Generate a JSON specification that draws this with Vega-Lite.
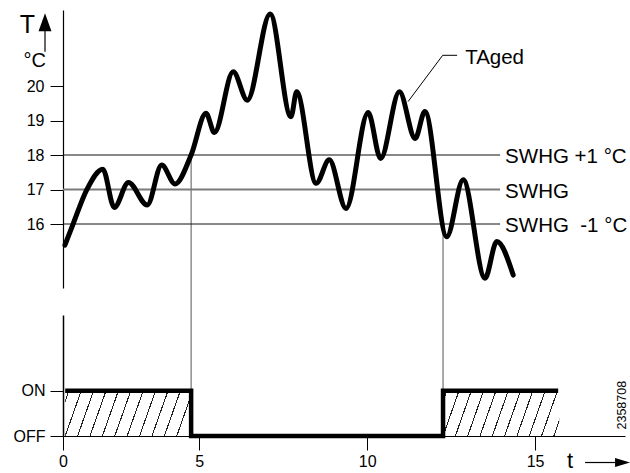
{
  "$schema": "https://vega.github.io/schema/vega-lite/v6.json",
  "width": 562,
  "height": 426,
  "autosize": {"type": "none"},
  "padding": {"left": 63, "top": 10, "right": 5, "bottom": 37},
  "background": "white",
  "config": {
    "view": {"stroke": null},
    "font": "Liberation Sans",
    "text": {"font": "Liberation Sans", "color": "black"},
    "axis": {"labelFont": "Liberation Sans", "titleFont": "Liberation Sans", "labelColor": "black", "titleColor": "black", "domainColor": "black", "tickColor": "black", "grid": false}
  },
  "datasets": {
    "curve": [
      {"t": 0.07, "temp": 15.39}, {"t": 0.38, "temp": 16.02}, {"t": 0.87, "temp": 16.99},
      {"t": 1.46, "temp": 17.59}, {"t": 1.88, "temp": 16.48}, {"t": 2.40, "temp": 17.20},
      {"t": 3.09, "temp": 16.55}, {"t": 3.62, "temp": 17.71}, {"t": 4.11, "temp": 17.16},
      {"t": 4.70, "temp": 18.0}, {"t": 5.20, "temp": 19.21}, {"t": 5.45, "temp": 18.65},
      {"t": 6.01, "temp": 20.41}, {"t": 6.43, "temp": 19.59}, {"t": 7.11, "temp": 22.09},
      {"t": 7.73, "temp": 19.11}, {"t": 7.90, "temp": 19.83}, {"t": 8.48, "temp": 17.18},
      {"t": 8.87, "temp": 17.86}, {"t": 9.37, "temp": 16.45}, {"t": 10.03, "temp": 19.23},
      {"t": 10.40, "temp": 17.90}, {"t": 10.96, "temp": 19.83}, {"t": 11.43, "temp": 18.48},
      {"t": 11.72, "temp": 19.26}, {"t": 12.37, "temp": 15.63}, {"t": 12.86, "temp": 17.28},
      {"t": 13.51, "temp": 14.43}, {"t": 13.86, "temp": 15.49}, {"t": 14.35, "temp": 14.52}
    ],
    "refs": [
      {"t": 0, "t2": 13.96, "temp": 18, "label": "SWHG +1 °C"},
      {"t": 0, "t2": 13.96, "temp": 17, "label": "SWHG"},
      {"t": 0, "t2": 13.96, "temp": 16, "label": "SWHG\u00a0 -1 °C"}
    ],
    "vlines": [
      {"t": 4.70, "temp": 18},
      {"t": 12.26, "temp": 16}
    ],
    "leader": [
      {"i": 0, "t": 11.22, "temp": 19.55},
      {"i": 1, "t": 12.25, "temp": 20.89},
      {"i": 2, "t": 12.68, "temp": 20.89}
    ],
    "step": [
      {"i": 0, "t": 0.08, "state": 1},
      {"i": 1, "t": 4.70, "state": 1},
      {"i": 2, "t": 4.70, "state": 0},
      {"i": 3, "t": 12.26, "state": 0},
      {"i": 4, "t": 12.26, "state": 1},
      {"i": 5, "t": 15.69, "state": 1}
    ],
    "hatch": [
      {"part": "a", "t": 0.08, "t2": 4.70, "state": 1},
      {"part": "b", "t": 12.26, "t2": 15.72, "state": 1}
    ]
  },
  "encoding": {
    "x": {
      "field": "t", "type": "quantitative",
      "scale": {"domain": [0, 5, 17.68], "range": [0, 136.3, 562], "nice": false, "zero": false},
      "axis": {
        "values": [0, 5, 10, 15], "title": "t", "titleX": 506.5, "titleY": 31,
        "titleAlign": "center", "titleBaseline": "alphabetic", "titleFontSize": 22, "titleFontWeight": "normal",
        "labelFontSize": 16, "labelPadding": 3, "tickSize": 14, "tickWidth": 1, "domainWidth": 1,
        "labelFlush": false, "labelOverlap": false
      }
    }
  },
  "layer": [
    {
      "encoding": {
        "y": {
          "field": "temp", "type": "quantitative",
          "scale": {"domain": [14.145, 22.203], "range": [278, 0], "nice": false, "zero": false},
          "axis": {
            "orient": "left", "values": [16, 17, 18, 19, 20], "title": "T", "titleAngle": 0,
            "titleX": -36, "titleY": 22, "titleAlign": "center", "titleBaseline": "alphabetic",
            "titleFontSize": 25, "titleFontWeight": "normal",
            "labelFontSize": 16, "labelPadding": 6, "tickSize": 13, "tickWidth": 1, "domainWidth": 1.2
          }
        }
      },
      "layer": [
        {
          "data": {"name": "vlines"},
          "mark": {"type": "rule", "color": "#555555", "strokeWidth": 1},
          "encoding": {"y2": {"value": "height"}}
        },
        {
          "data": {"name": "refs"},
          "mark": {"type": "rule"},
          "encoding": {
            "x2": {"field": "t2"},
            "color": {"condition": {"test": "datum.temp == 17", "value": "#7a7a7a"}, "value": "#111111"},
            "strokeWidth": {"condition": {"test": "datum.temp == 17", "value": 1.8}, "value": 1}
          }
        },
        {
          "data": {"name": "refs"},
          "mark": {"type": "text", "align": "left", "baseline": "middle", "dx": 5, "dy": 2, "fontSize": 20.5},
          "encoding": {"x": {"field": "t2", "type": "quantitative"}, "text": {"field": "label"}}
        },
        {
          "data": {"name": "curve"},
          "mark": {"type": "line", "interpolate": "monotone", "color": "black", "strokeWidth": 5, "strokeCap": "round", "strokeJoin": "round"}
        },
        {
          "data": {"name": "leader"},
          "mark": {"type": "line", "color": "black", "strokeWidth": 1},
          "encoding": {"order": {"field": "i"}}
        },
        {
          "data": {"values": [{"t": 12.68, "temp": 20.89, "label": "TAged"}]},
          "mark": {"type": "text", "align": "left", "baseline": "middle", "dx": 8, "dy": 3, "fontSize": 20.5},
          "encoding": {"text": {"field": "label"}}
        },
        {
          "data": {"values": [{"t": -0.66, "temp": 20.75, "label": "°C"}]},
          "mark": {"type": "text", "align": "right", "baseline": "middle", "dx": 1, "dy": 1, "fontSize": 20},
          "encoding": {"text": {"field": "label"}}
        },
        {
          "data": {"values": [{"t": -0.66, "temp": 21.6, "temp2": 20.99}]},
          "mark": {"type": "rule", "color": "black", "strokeWidth": 1.2},
          "encoding": {"y2": {"field": "temp2"}}
        },
        {
          "data": {"values": [{"t": -0.66, "temp": 21.846}]},
          "mark": {"type": "point", "shape": "M0,-1L0.72,1L-0.72,1Z", "size": 324, "filled": true, "color": "black", "opacity": 1, "strokeWidth": 0}
        }
      ]
    },
    {
      "encoding": {
        "y": {
          "field": "state", "type": "quantitative",
          "scale": {"domain": [0, 2.67], "range": [426, 305], "nice": false, "zero": false},
          "axis": {
            "orient": "left", "values": [0, 1], "labelExpr": "datum.value == 1 ? 'ON' : 'OFF'", "title": null,
            "labelFontSize": 16, "labelPadding": 5, "tickSize": 13, "tickWidth": 1, "domainWidth": 1.5
          }
        }
      },
      "layer": [
        {
          "data": {"name": "hatch"},
          "transform": [{"filter": "datum.part == 'a'"}],
          "mark": {
            "type": "rect", "stroke": null,
            "fill": {
              "gradient": "linear", "x1": 0, "y1": 0, "x2": 1.1094, "y2": 0.1415,
              "stops": [
                {"offset": 0, "color": "rgba(255,255,255,0)"},
                {"offset": 0.0218, "color": "rgba(255,255,255,0)"}, {"offset": 0.0218, "color": "#222222"}, {"offset": 0.0298, "color": "#222222"}, {"offset": 0.0298, "color": "rgba(255,255,255,0)"},
                {"offset": 0.1091, "color": "rgba(255,255,255,0)"}, {"offset": 0.1091, "color": "#222222"}, {"offset": 0.1171, "color": "#222222"}, {"offset": 0.1171, "color": "rgba(255,255,255,0)"},
                {"offset": 0.1964, "color": "rgba(255,255,255,0)"}, {"offset": 0.1964, "color": "#222222"}, {"offset": 0.2044, "color": "#222222"}, {"offset": 0.2044, "color": "rgba(255,255,255,0)"},
                {"offset": 0.2837, "color": "rgba(255,255,255,0)"}, {"offset": 0.2837, "color": "#222222"}, {"offset": 0.2917, "color": "#222222"}, {"offset": 0.2917, "color": "rgba(255,255,255,0)"},
                {"offset": 0.3709, "color": "rgba(255,255,255,0)"}, {"offset": 0.3709, "color": "#222222"}, {"offset": 0.3789, "color": "#222222"}, {"offset": 0.3789, "color": "rgba(255,255,255,0)"},
                {"offset": 0.4582, "color": "rgba(255,255,255,0)"}, {"offset": 0.4582, "color": "#222222"}, {"offset": 0.4662, "color": "#222222"}, {"offset": 0.4662, "color": "rgba(255,255,255,0)"},
                {"offset": 0.5455, "color": "rgba(255,255,255,0)"}, {"offset": 0.5455, "color": "#222222"}, {"offset": 0.5535, "color": "#222222"}, {"offset": 0.5535, "color": "rgba(255,255,255,0)"},
                {"offset": 0.6328, "color": "rgba(255,255,255,0)"}, {"offset": 0.6328, "color": "#222222"}, {"offset": 0.6408, "color": "#222222"}, {"offset": 0.6408, "color": "rgba(255,255,255,0)"},
                {"offset": 0.7201, "color": "rgba(255,255,255,0)"}, {"offset": 0.7201, "color": "#222222"}, {"offset": 0.7281, "color": "#222222"}, {"offset": 0.7281, "color": "rgba(255,255,255,0)"},
                {"offset": 0.8073, "color": "rgba(255,255,255,0)"}, {"offset": 0.8073, "color": "#222222"}, {"offset": 0.8153, "color": "#222222"}, {"offset": 0.8153, "color": "rgba(255,255,255,0)"},
                {"offset": 0.8946, "color": "rgba(255,255,255,0)"}, {"offset": 0.8946, "color": "#222222"}, {"offset": 0.9026, "color": "#222222"}, {"offset": 0.9026, "color": "rgba(255,255,255,0)"},
                {"offset": 0.9819, "color": "rgba(255,255,255,0)"}, {"offset": 0.9819, "color": "#222222"}, {"offset": 0.9899, "color": "#222222"}, {"offset": 0.9899, "color": "rgba(255,255,255,0)"},
                {"offset": 1, "color": "rgba(255,255,255,0)"}
              ]
            }
          },
          "encoding": {"x2": {"field": "t2"}, "y2": {"datum": 0}}
        },
        {
          "data": {"name": "hatch"},
          "transform": [{"filter": "datum.part == 'b'"}],
          "mark": {
            "type": "rect", "stroke": null,
            "fill": {
              "gradient": "linear", "x1": 0, "y1": 0, "x2": 1.1163, "y2": 0.1533,
              "stops": [
                {"offset": 0, "color": "rgba(255,255,255,0)"},
                {"offset": 0.0233, "color": "rgba(255,255,255,0)"}, {"offset": 0.0233, "color": "#222222"}, {"offset": 0.0319, "color": "#222222"}, {"offset": 0.0319, "color": "rgba(255,255,255,0)"},
                {"offset": 0.1165, "color": "rgba(255,255,255,0)"}, {"offset": 0.1165, "color": "#222222"}, {"offset": 0.1251, "color": "#222222"}, {"offset": 0.1251, "color": "rgba(255,255,255,0)"},
                {"offset": 0.2097, "color": "rgba(255,255,255,0)"}, {"offset": 0.2097, "color": "#222222"}, {"offset": 0.2183, "color": "#222222"}, {"offset": 0.2183, "color": "rgba(255,255,255,0)"},
                {"offset": 0.3029, "color": "rgba(255,255,255,0)"}, {"offset": 0.3029, "color": "#222222"}, {"offset": 0.3115, "color": "#222222"}, {"offset": 0.3115, "color": "rgba(255,255,255,0)"},
                {"offset": 0.3961, "color": "rgba(255,255,255,0)"}, {"offset": 0.3961, "color": "#222222"}, {"offset": 0.4047, "color": "#222222"}, {"offset": 0.4047, "color": "rgba(255,255,255,0)"},
                {"offset": 0.4893, "color": "rgba(255,255,255,0)"}, {"offset": 0.4893, "color": "#222222"}, {"offset": 0.4979, "color": "#222222"}, {"offset": 0.4979, "color": "rgba(255,255,255,0)"},
                {"offset": 0.5825, "color": "rgba(255,255,255,0)"}, {"offset": 0.5825, "color": "#222222"}, {"offset": 0.5911, "color": "#222222"}, {"offset": 0.5911, "color": "rgba(255,255,255,0)"},
                {"offset": 0.6756, "color": "rgba(255,255,255,0)"}, {"offset": 0.6756, "color": "#222222"}, {"offset": 0.6842, "color": "#222222"}, {"offset": 0.6842, "color": "rgba(255,255,255,0)"},
                {"offset": 0.7688, "color": "rgba(255,255,255,0)"}, {"offset": 0.7688, "color": "#222222"}, {"offset": 0.7774, "color": "#222222"}, {"offset": 0.7774, "color": "rgba(255,255,255,0)"},
                {"offset": 0.8620, "color": "rgba(255,255,255,0)"}, {"offset": 0.8620, "color": "#222222"}, {"offset": 0.8706, "color": "#222222"}, {"offset": 0.8706, "color": "rgba(255,255,255,0)"},
                {"offset": 0.9552, "color": "rgba(255,255,255,0)"}, {"offset": 0.9552, "color": "#222222"}, {"offset": 0.9638, "color": "#222222"}, {"offset": 0.9638, "color": "rgba(255,255,255,0)"},
                {"offset": 1, "color": "rgba(255,255,255,0)"}
              ]
            }
          },
          "encoding": {"x2": {"field": "t2"}, "y2": {"datum": 0}}
        },
        {
          "data": {"name": "step"},
          "mark": {"type": "line", "color": "black", "strokeWidth": 4.5, "strokeJoin": "miter", "strokeCap": "butt"},
          "encoding": {"order": {"field": "i"}}
        },
        {
          "data": {"values": [{"t": 16.49, "t2": 17.38, "state": -0.585}]},
          "mark": {"type": "rule", "color": "black", "strokeWidth": 1.2},
          "encoding": {"x2": {"field": "t2"}}
        },
        {
          "data": {"values": [{"t": 17.607, "state": -0.585}]},
          "mark": {"type": "point", "shape": "M-1,-0.6L1,0L-1,0.6Z", "size": 225, "filled": true, "color": "black", "opacity": 1, "strokeWidth": 0}
        },
        {
          "data": {"values": [{"t": 17.58, "state": 0.68, "label": "2358708"}]},
          "mark": {"type": "text", "angle": 270, "align": "center", "baseline": "middle", "fontSize": 12.5},
          "encoding": {"text": {"field": "label"}}
        }
      ]
    }
  ],
  "resolve": {"scale": {"y": "independent"}, "axis": {"y": "independent"}}
}
